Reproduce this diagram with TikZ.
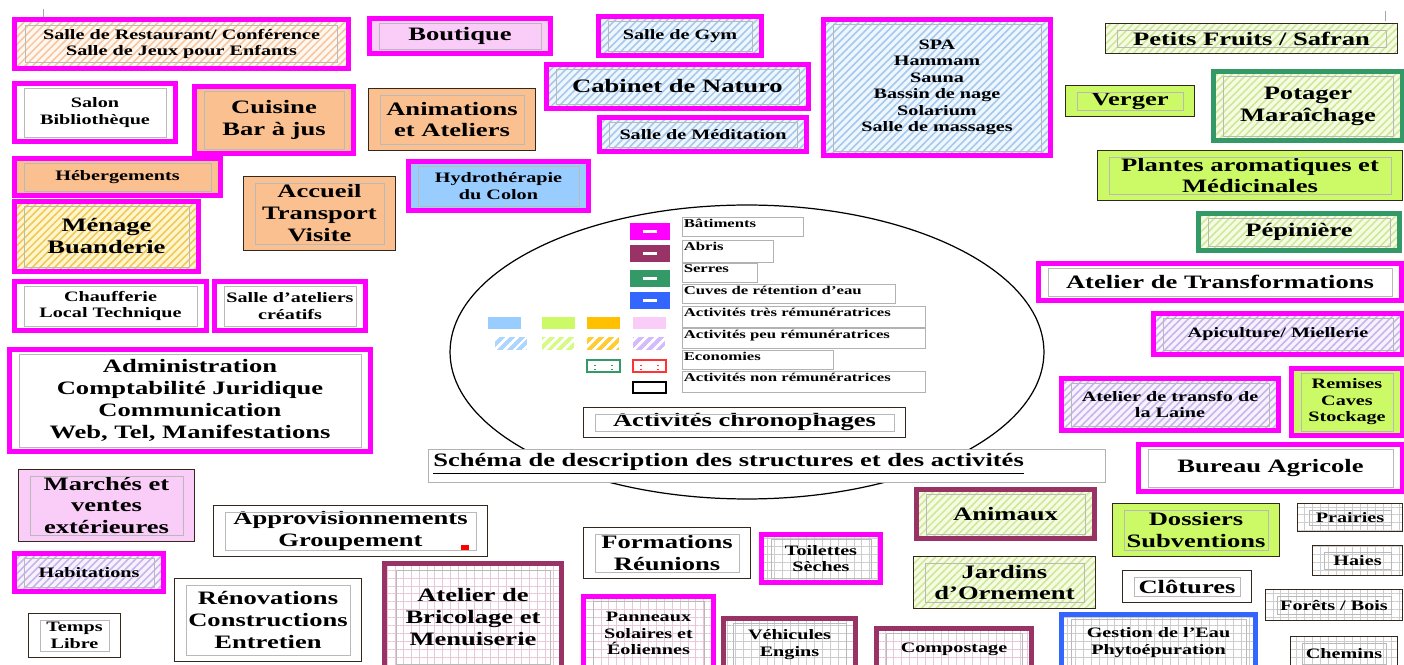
\documentclass[tikz,border=0pt]{standalone}
\usepackage{fontspec}
\setmainfont{Liberation Serif}[FakeStretch=1.4]
\usetikzlibrary{patterns.meta}

\definecolor{rosebat}{RGB}{255,0,255}
\definecolor{violetabri}{RGB}{153,51,102}
\definecolor{vertserre}{RGB}{51,153,102}
\definecolor{bleucuve}{RGB}{51,102,255}
\definecolor{fonce}{RGB}{50,40,30}
\definecolor{peche}{RGB}{250,192,144}
\definecolor{rosepale}{RGB}{250,204,248}
\definecolor{bleupale}{RGB}{153,204,255}
\definecolor{vertjaune}{RGB}{204,250,102}
\definecolor{ambre}{RGB}{255,192,0}
\definecolor{lavande}{RGB}{204,170,250}
\definecolor{hpeche}{RGB}{247,198,160}
\definecolor{fpeche}{RGB}{255,248,240}
\definecolor{hjaune}{RGB}{240,200,90}
\definecolor{fjaune}{RGB}{255,246,205}
\definecolor{hbleu}{RGB}{165,200,235}
\definecolor{fbleu}{RGB}{238,246,255}
\definecolor{hvert}{RGB}{205,232,150}
\definecolor{fvert}{RGB}{246,252,228}
\definecolor{hlav}{RGB}{200,180,235}
\definecolor{flav}{RGB}{246,242,255}
\definecolor{grose}{RGB}{232,200,215}
\definecolor{ggris}{RGB}{205,205,205}

\newcommand{\fontgrand}{\fontsize{10.8}{12.5}\selectfont\bfseries}
\newcommand{\fontmoyen}{\fontsize{8.2}{9.4}\selectfont\bfseries}
\newcommand{\fontlegende}{\fontsize{6.8}{7.5}\selectfont\bfseries}

\tikzset{
  boite/.style={rectangle, align=center, inner sep=1pt, text=black, font=\fontgrand},
  batiment/.style={boite, draw=rosebat, line width=2.8pt},
  abri/.style={boite, draw=violetabri, line width=2.8pt},
  serre/.style={boite, draw=vertserre, line width=2.8pt},
  cuve/.style={boite, draw=bleucuve, line width=2.8pt},
  simple/.style={boite, draw=fonce, line width=0.6pt},
  petit/.style={font=\fontmoyen},
  hachure/.style 2 args={preaction={fill=#2}, pattern={Lines[angle=45,distance=3pt,line width=0.9pt]}, pattern color=#1},
  grille/.style={preaction={fill=white}, pattern={Hatch[angle=0,distance=4.5pt,line width=0.4pt]}, pattern color=#1},
  interieur/.style={draw=gray!55, line width=0.4pt},
  legcase/.style={draw=gray!60, line width=0.4pt, inner sep=0pt},
  legtexte/.style={font=\fontlegende, inner sep=0.8pt, anchor=north west},
}

% boite : nom, style, x1, y1, x2, y2, texte
\newcommand{\boite}[7]{%
  \node[#2, minimum width={(#5-#3-3)*0.02cm}, minimum height={(#6-#4-3)*0.02cm}] (#1) at ({(#3+#5)/2},{(#4+#6)/2}) {#7};
  \draw[interieur] ([shift={(12,7)}]#1.north west) rectangle ([shift={(-12,-7)}]#1.south east);
}
% legende : nom, y1, y2, x2, texte
\newcommand{\legende}[5]{%
  \node[legcase, anchor=north west, minimum width={(#4-682)*0.02cm}, minimum height={(#3-#2)*0.02cm}] (#1) at (682,#2) {};
  \node[legtexte] at (#1.north west) {#5};
}

\begin{document}
\begin{tikzpicture}[x=0.02cm, y=-0.02cm]
  \fill[white] (0,0) rectangle (1404,665);
  \useasboundingbox (0,0) rectangle (1404,665);
  \draw[gray!70, line width=0.4pt] (43,9) -- (43,19);
  \draw[gray!70, line width=0.4pt] (1385,11) -- (1385,21);

  % colonne de gauche
  \boite{resto}{batiment, petit, hachure={hpeche}{fpeche}}{13}{18}{350}{70}{Salle de Restaurant/ Conférence\\Salle de Jeux pour Enfants}
  \boite{salon}{batiment, petit, fill=white}{13}{82}{177}{143}{Salon\\Bibliothèque}
  \boite{cuisine}{batiment, fill=peche}{193}{85}{355}{155}{Cuisine\\Bar à jus}
  \boite{heberg}{batiment, petit, fill=peche}{13}{157}{222}{197}{Hébergements}
  \boite{menage}{batiment, hachure={hjaune}{fjaune}}{13}{200}{200}{273}{Ménage\\Buanderie}
  \boite{accueil}{simple, fill=peche}{242}{175}{397}{252}{Accueil\\Transport\\Visite}
  \boite{chauff}{batiment, petit, fill=white}{13}{280}{208}{332}{Chaufferie\\Local Technique}
  \boite{ateliers}{batiment, petit, fill=white}{213}{280}{367}{332}{Salle d’ateliers\\créatifs}
  \boite{admin}{batiment, fill=white}{8}{348}{372}{453}{Administration\\Comptabilité Juridique\\Communication\\Web, Tel, Manifestations}
  \boite{marches}{simple, fill=rosepale}{17}{468}{196}{543}{Marchés et\\ventes\\extérieures}
  \boite{habit}{batiment, petit, hachure={hlav}{flav}}{13}{552}{165}{593}{Habitations}
  \boite{temps}{simple, petit, fill=white}{27}{612}{122}{659}{Temps\\Libre}
  \boite{appro}{simple, fill=white}{212}{504}{489}{558}{Approvisionnements\\Groupement}
  \fill[red] (461,545) rectangle (469,550);
  \boite{renov}{simple, fill=white}{173}{577}{363}{663}{Rénovations\\Constructions\\Entretien}

  % haut
  \boite{boutique}{batiment, fill=rosepale}{368}{17}{552}{55}{Boutique}
  \boite{anim}{simple, fill=peche}{367}{87}{537}{152}{Animations\\et Ateliers}
  \boite{hydro}{batiment, petit, fill=bleupale}{407}{160}{590}{212}{Hydrothérapie\\du Colon}
  \boite{gym}{batiment, petit, hachure={hbleu}{fbleu}}{597}{15}{763}{57}{Salle de Gym}
  \boite{naturo}{batiment, hachure={hbleu}{fbleu}}{545}{63}{810}{110}{Cabinet de Naturo}
  \boite{medit}{batiment, petit, hachure={hbleu}{fbleu}}{598}{116}{808}{153}{Salle de Méditation}
  \boite{spa}{batiment, petit, hachure={hbleu}{fbleu}}{822}{18}{1052}{157}{SPA\\Hammam\\Sauna\\Bassin de nage\\Solarium\\Salle de massages}

  % colonne de droite
  \boite{fruits}{simple, hachure={hvert}{fvert}}{1104}{22}{1399}{55}{Petits Fruits / Safran}
  \boite{verger}{simple, fill=vertjaune}{1064}{84}{1196}{118}{Verger}
  \boite{potager}{serre, hachure={hvert}{fvert}}{1212}{70}{1404}{142}{Potager\\Maraîchage}
  \boite{plantes}{simple, fill=vertjaune}{1096}{149}{1404}{202}{Plantes aromatiques et\\Médicinales}
  \boite{pepin}{serre, hachure={hvert}{fvert}}{1197}{212}{1401}{252}{Pépinière}
  \boite{transfo}{batiment, fill=white}{1037}{262}{1403}{302}{Atelier de Transformations}
  \boite{apicult}{batiment, petit, hachure={hlav}{flav}}{1152}{312}{1404}{356}{Apiculture/ Miellerie}
  \boite{laine}{batiment, petit, hachure={hlav}{flav}}{1060}{377}{1280}{432}{Atelier de transfo de\\la Laine}
  \boite{remises}{batiment, petit, fill=vertjaune}{1290}{367}{1404}{437}{Remises\\Caves\\Stockage}
  \boite{bureau}{batiment, fill=white}{1137}{443}{1404}{493}{Bureau Agricole}

  % bas
  \boite{brico}{abri, grille=grose}{383}{562}{563}{672}{Atelier de\\Bricolage et\\Menuiserie}
  \boite{formations}{simple, fill=white}{582}{526}{752}{580}{Formations\\Réunions}
  \boite{panneaux}{batiment, petit, grille=grose}{582}{595}{715}{672}{Panneaux\\Solaires et\\Éoliennes}
  \boite{toilettes}{batiment, petit, grille=ggris}{760}{533}{882}{584}{Toilettes\\Sèches}
  \boite{vehicules}{abri, petit, grille=ggris}{722}{617}{857}{672}{Véhicules\\Engins}
  \boite{compost}{abri, petit, grille=grose}{875}{627}{1033}{672}{Compostage}
  \boite{animaux}{abri, hachure={hvert}{fvert}}{915}{488}{1096}{540}{Animaux}
  \boite{jardins}{simple, hachure={hvert}{fvert}}{912}{555}{1097}{610}{Jardins\\d’Ornement}
  \boite{dossiers}{simple, fill=vertjaune}{1111}{502}{1281}{558}{Dossiers\\Subventions}
  \boite{prairies}{simple, petit, grille=ggris}{1296}{502}{1404}{533}{Prairies}
  \boite{haies}{simple, petit, grille=ggris}{1311}{544}{1404}{577}{Haies}
  \boite{clotures}{simple, fill=white}{1121}{569}{1253}{604}{Clôtures}
  \boite{forets}{simple, petit, grille=ggris}{1264}{588}{1404}{622}{Forêts / Bois}
  \boite{eau}{cuve, petit, grille=ggris}{1060}{613}{1257}{672}{Gestion de l’Eau\\Phytoépuration}
  \boite{chemins}{simple, petit, grille=ggris}{1289}{635}{1399}{672}{Chemins}

  % legende
  \draw[line width=0.7pt] (747,352) ellipse [x radius=5.94cm, y radius=2.94cm];
  \foreach \c/\y in {rosebat/223, violetabri/245, vertserre/270, bleucuve/292} {
    \fill[\c] (630,\y) rectangle ++(40,17);
    \fill[white] (643,\y+7) rectangle ++(14,3);
  }
  \foreach \x/\c in {488/bleupale, 542/vertjaune, 587/ambre, 633/rosepale}
    \fill[\c] (\x,317) rectangle ++(33,12);
  \foreach \x/\c in {495/bleupale, 542/vertjaune, 587/ambre, 633/lavande}
    \fill[\c!80, postaction={pattern={Lines[angle=45,distance=4pt,line width=1.6pt]}, pattern color=white}] (\x,337) rectangle ++(32,13);
  \foreach \x/\c in {587/vertserre, 633/red!80} {
    \draw[\c, line width=0.6pt] (\x,360) rectangle ++(33,12);
    \draw[\c, line width=0.6pt, dotted] (\x+8,360) -- ++(0,12) (\x+25,360) -- ++(0,12);
  }
  \draw[line width=1pt] (633,382) rectangle (666,393);
  \legende{lbat}{217}{236}{803}{Bâtiments}
  \legende{labri}{240}{262}{773}{Abris}
  \legende{lserre}{263}{282}{757}{Serres}
  \legende{lcuve}{284}{303}{895}{Cuves de rétention d'eau}
  \legende{ltres}{306}{327}{925}{Activités très rémunératrices}
  \legende{lpeu}{328}{348}{925}{Activités peu rémunératrices}
  \legende{leco}{350}{369}{833}{Economies}
  \legende{lnon}{371}{392}{925}{Activités non rémunératrices}
  \boite{chrono}{simple, fill=white}{582}{406}{907}{439}{Activités chronophages}
  \node[legcase, fill=white, anchor=north west, minimum width=13.54cm, minimum height=0.66cm] (cadretitre) at (428,449) {};
  \node[font=\fontgrand, anchor=north west, inner sep=0pt] (titre) at (433,453) {\underline{Schéma de description des structures et des activités}};
\end{tikzpicture}
\end{document}
